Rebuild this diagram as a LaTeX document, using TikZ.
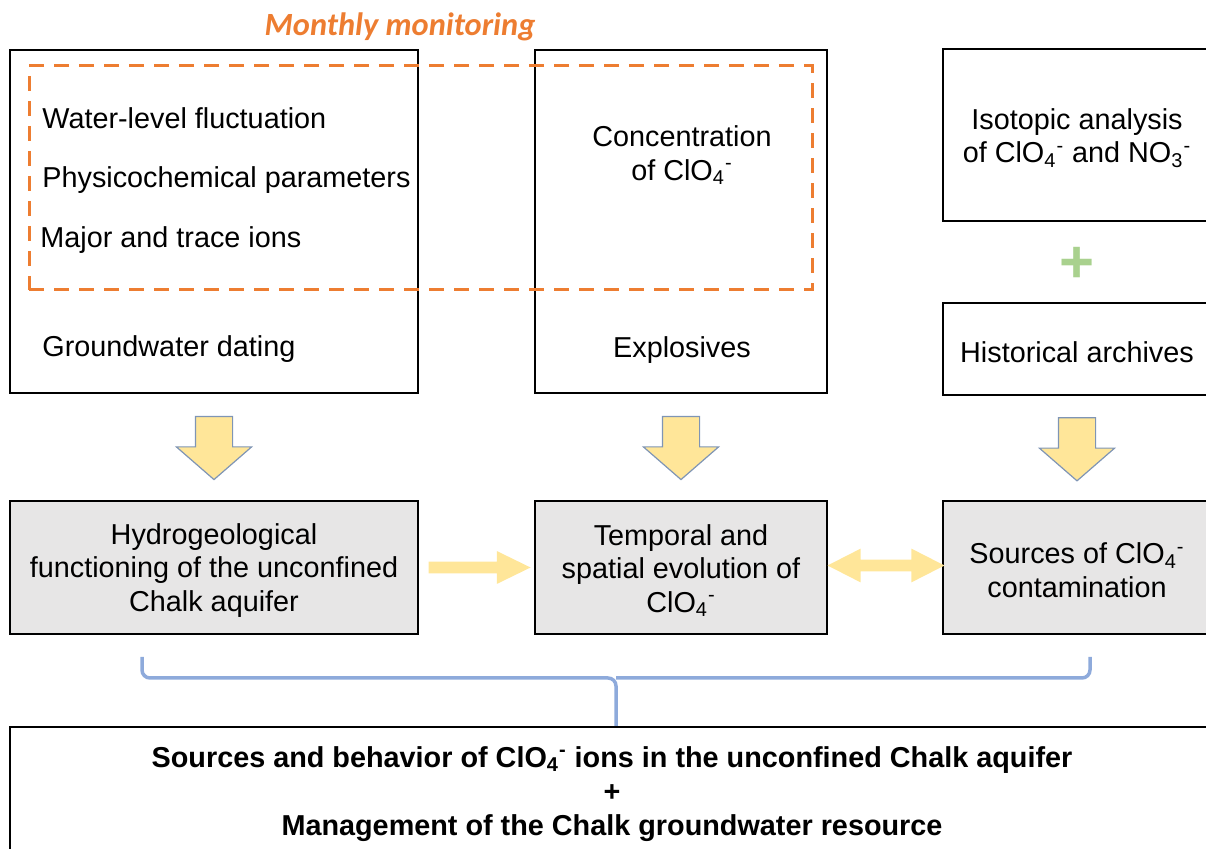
\documentclass[tikz,border=0pt]{standalone}
\usepackage{fontspec}
\setmainfont{Liberation Sans}
\newfontfamily\calfont{Carlito}
\usepackage{xcolor}
\usetikzlibrary{positioning,calc,shapes.arrows}
\definecolor{monorange}{HTML}{ED7D31}
\definecolor{boxgray}{HTML}{E7E6E6}
\definecolor{arrowfill}{HTML}{FFE699}
\definecolor{arrowline}{HTML}{7F95B5}
\definecolor{bracecol}{HTML}{8EAADB}
\definecolor{pluscol}{HTML}{A9D18E}
\newcommand{\perchl}{ClO\textsubscript{4}\textsuperscript{-}}
\newcommand{\nitr}{NO\textsubscript{3}\textsuperscript{-}}

\begin{document}
\begin{tikzpicture}[x=0.5pt,y=-0.5pt,
  font=\fontsize{14.4}{16.8}\selectfont,
  box/.style={draw,line width=1pt,inner sep=0pt},
  resultbox/.style={box,fill=boxgray},
  inbox/.style={align=center,inner sep=0pt,yshift=-1.5pt},
  item/.style={anchor=base west,inner sep=0pt},
  monitorbox/.style={draw=monorange,line width=1.5pt,dash pattern=on 7.5pt off 5pt,inner sep=0pt},
  dnarrow/.style={single arrow,draw=arrowline,line width=0.6pt,fill=arrowfill,rotate=-90,inner xsep=0pt,inner ysep=9pt,
    minimum height=31.5pt,single arrow head extend=9.5pt,single arrow tip angle=98},
  flowarrow/.style={single arrow,fill=arrowfill,inner xsep=0pt,inner ysep=2.75pt,
    minimum height=51pt,single arrow head extend=5.25pt,single arrow tip angle=52},
  linkarrow/.style={double arrow,fill=arrowfill,inner xsep=0pt,inner ysep=2.75pt,
    minimum height=58.5pt,double arrow head extend=5.5pt,double arrow tip angle=54},
  brace/.style={draw=bracecol,line width=1.75pt,rounded corners=4pt}]
\useasboundingbox (0,0) rectangle (1206,849);
\clip (0,0) rectangle (1206,849);

% top row
\node[box,minimum width=204pt,minimum height=171.5pt] (field) at (214,221.5) {};
\node[box,minimum width=146pt,minimum height=171.5pt] (lab) at (681,221.5) {};
\node[box,minimum width=134pt,minimum height=86pt] (iso) at (1077,135) {};
\node[inbox] (isotxt) at (iso.center) {Isotopic analysis\\of \perchl{} and \nitr};
\node[text=pluscol] (plus) at (1077,265) {\fontsize{30}{30}\selectfont\bfseries +};
\node[box,minimum width=134pt,minimum height=46pt] (hist) at (1077,349.5) {};
\node[inbox] (histtxt) at (hist.center) {Historical archives};

\node[monitorbox,minimum width=391.5pt,minimum height=112pt] (monitor) at (420.5,178) {};
\node[text=monorange] (monthly) at (400,27) {\calfont\fontsize{16.2}{18}\selectfont\bfseries\itshape Monthly monitoring};

\node[item] (level) at (42,128.5) {Water-level fluctuation};
\node[item] (phys) at (42,187.5) {Physicochemical parameters};
\node[item] (ions) at (40,247.5) {Major and trace ions};
\node[item] (dating) at (42,356.5) {Groundwater dating};
\node[inbox] (conc) at (682,152) {Concentration\\of \perchl};
\node[inbox] (expl) at (682,347) {Explosives};

% results
\node[resultbox,minimum width=204pt,minimum height=66.5pt] (hydro) at (214,567.5) {};
\node[inbox] (hydrotxt) at (hydro.center) {Hydrogeological\\functioning of the unconfined\\Chalk aquifer};
\node[resultbox,minimum width=146pt,minimum height=66.5pt] (evol) at (681,567.5) {};
\node[inbox] (evoltxt) at (evol.center) {Temporal and\\spatial evolution of\\\perchl};
\node[resultbox,minimum width=134pt,minimum height=66.5pt] (srcs) at (1077,567.5) {};
\node[inbox] (srcstxt) at (srcs.center) {Sources of \perchl\\contamination};

% arrows
\node[dnarrow] (arfield) at ($(field.south)!0.5!(hydro.north)+(0,-7)$) {};
\node[dnarrow] (arlab) at ($(lab.south)!0.5!(evol.north)+(0,-7)$) {};
\node[dnarrow] (arhist) at ($(hist.south)!0.5!(srcs.north)+(0,-7)$) {};
\node[flowarrow] (arflow) at ($(hydro.east)!0.5!(evol.west)+(-3,0)$) {};
\node[linkarrow] (arlink) at ($(evol.east)!0.5!(srcs.west)+(1,-2)$) {};

% synthesis
\node[box,minimum width=602pt,minimum height=64pt] (synth) at (612,791) {};
\node[inbox,font=\fontsize{14.4}{17}\selectfont\bfseries] (synthtxt) at (synth.center)
  {Sources and behavior of \perchl{} ions in the unconfined Chalk aquifer\\+\\Management of the Chalk groundwater resource};

\coordinate (bl) at (142,657);
\coordinate (br) at (1090,657);
\coordinate (bmid) at (616,678);
\coordinate (bm) at (synth.north-|bmid);
\draw[brace] (bl) |- (bmid) -- (bm);
\draw[brace] (br) |- (bmid);
\end{tikzpicture}
\end{document}
